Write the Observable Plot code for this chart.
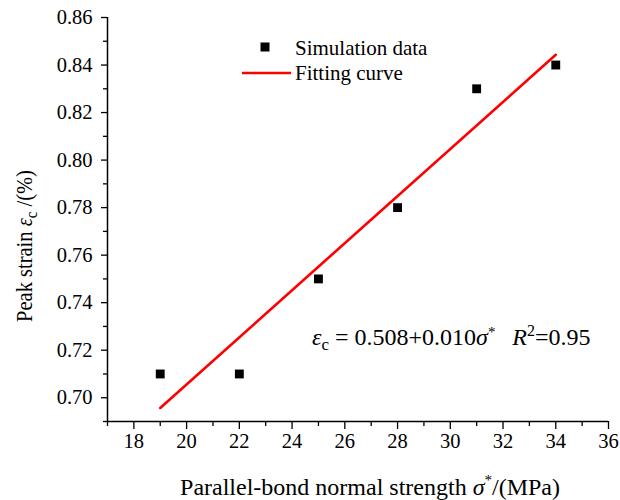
<!DOCTYPE html>
<html>
<head>
<meta charset="utf-8">
<script src="https://cdn.jsdelivr.net/npm/d3@7"></script>
<script src="https://cdn.jsdelivr.net/npm/@observablehq/plot@0.6"></script>
<style>
  html, body { margin: 0; padding: 0; background: #fff; }
  #chart { width: 620px; height: 500px; }
  #chart svg, #chart svg text { font-family: "Liberation Serif", "DejaVu Serif", serif !important; }
</style>
</head>
<body>
<div id="chart"></div>
<script>
// Simulation data
const strength = [19, 22, 25, 28, 31, 34];
const peakStrain = [0.71, 0.71, 0.75, 0.78, 0.83, 0.84];
// Fitting curve endpoints (εc = 0.508 + 0.010σ*)
const fitX = [19, 34];
const fitY = [0.6957, 0.8443];
// Tick values
const xTicks = [18, 20, 22, 24, 26, 28, 30, 32, 34, 36];
const xMinor = [17, 19, 21, 23, 25, 27, 29, 31, 33, 35];
const yTicks = [0.70, 0.72, 0.74, 0.76, 0.78, 0.80, 0.82, 0.84, 0.86];
const yMinor = [0.69, 0.71, 0.73, 0.75, 0.77, 0.79, 0.81, 0.83, 0.85];

const data = strength.map((x, i) => ({x, y: peakStrain[i]}));
const fit = fitX.map((x, i) => ({x, y: fitY[i]}));

const FONT = "Liberation Serif, DejaVu Serif, serif";

const plot = Plot.plot({
  width: 620,
  height: 500,
  marginLeft: 107,
  marginRight: 12,
  marginTop: 17,
  marginBottom: 79,
  style: {fontFamily: FONT, color: "#000", background: "#fff", overflow: "visible"},
  x: {domain: [17, 36]},
  y: {domain: [0.69, 0.86]},
  marks: [
    Plot.axisX({ticks: xTicks, tickSize: 8, tickPadding: 4, fontSize: 20.5, label: null, stroke: "#000", strokeWidth: 1.3}),
    Plot.axisX({ticks: xMinor, tickSize: 5, tickFormat: () => "", label: null, stroke: "#000", strokeWidth: 1.3}),
    Plot.axisY({ticks: yTicks, tickSize: 6, tickPadding: 9, fontSize: 20.5, tickFormat: d3.format(".2f"), label: null, stroke: "#000", strokeWidth: 1.3}),
    Plot.axisY({ticks: yMinor, tickSize: 4, tickFormat: () => "", label: null, stroke: "#000", strokeWidth: 1.3}),
    Plot.ruleX([17], {stroke: "#000", strokeWidth: 1.5}),
    Plot.ruleY([0.69], {stroke: "#000", strokeWidth: 1.5}),
    Plot.line(fit, {x: "x", y: "y", stroke: "#ff0000", strokeWidth: 2.6}),
    Plot.dot(data, {x: "x", y: "y", symbol: "square", r: 5, fill: "#000", stroke: "none"})
  ]
});

document.getElementById("chart").appendChild(plot);

const svg = d3.select(plot);

// Legend
const lg = svg.append("g").attr("font-size", 21).attr("fill", "#000").attr("text-anchor", "start");
lg.append("rect").attr("x", 260.5).attr("y", 42.5).attr("width", 9).attr("height", 9).attr("fill", "#000");
lg.append("text").attr("x", 295).attr("y", 55).text("Simulation data");
lg.append("line").attr("x1", 242).attr("x2", 291).attr("y1", 73).attr("y2", 73)
  .attr("stroke", "#ff0000").attr("stroke-width", 2.6);
lg.append("text").attr("x", 295).attr("y", 80).text("Fitting curve");

// Equation annotation
const eq = svg.append("text").attr("font-size", 24).attr("fill", "#000")
  .attr("text-anchor", "start").attr("x", 312).attr("y", 345);
eq.append("tspan").attr("font-style", "italic").text("ε");
eq.append("tspan").attr("font-size", 17).attr("dy", 5).text("c");
eq.append("tspan").attr("dy", -5).text(" = 0.508+0.010");
eq.append("tspan").attr("font-style", "italic").text("σ");
eq.append("tspan").attr("font-size", 15).attr("dy", -8).text("*");
eq.append("tspan").attr("dy", 8).text("\u2002\u2009");
eq.append("tspan").attr("font-style", "italic").text("R");
eq.append("tspan").attr("font-size", 16).attr("dy", -9).text("2");
eq.append("tspan").attr("dy", 9).text("=0.95");

// X axis label
const xl = svg.append("text").attr("font-size", 24).attr("fill", "#000")
  .attr("x", 370).attr("y", 495).attr("text-anchor", "middle");
xl.append("tspan").text("Parallel-bond normal strength ");
xl.append("tspan").attr("font-style", "italic").text("σ");
xl.append("tspan").attr("font-size", 15).attr("dy", -10).text("*");
xl.append("tspan").attr("dy", 10).text("/(MPa)");

// Y axis label
const yl = svg.append("text").attr("font-size", 20.5).attr("fill", "#000")
  .attr("transform", "translate(32,246) rotate(-90) scale(1,1.15)").attr("text-anchor", "middle");
yl.append("tspan").text("Peak strain ");
yl.append("tspan").attr("font-style", "italic").text("ε");
yl.append("tspan").attr("font-size", 15).attr("dy", 4).text("c");
yl.append("tspan").attr("dy", -4).text(" /(%)");
</script>
</body>
</html>
